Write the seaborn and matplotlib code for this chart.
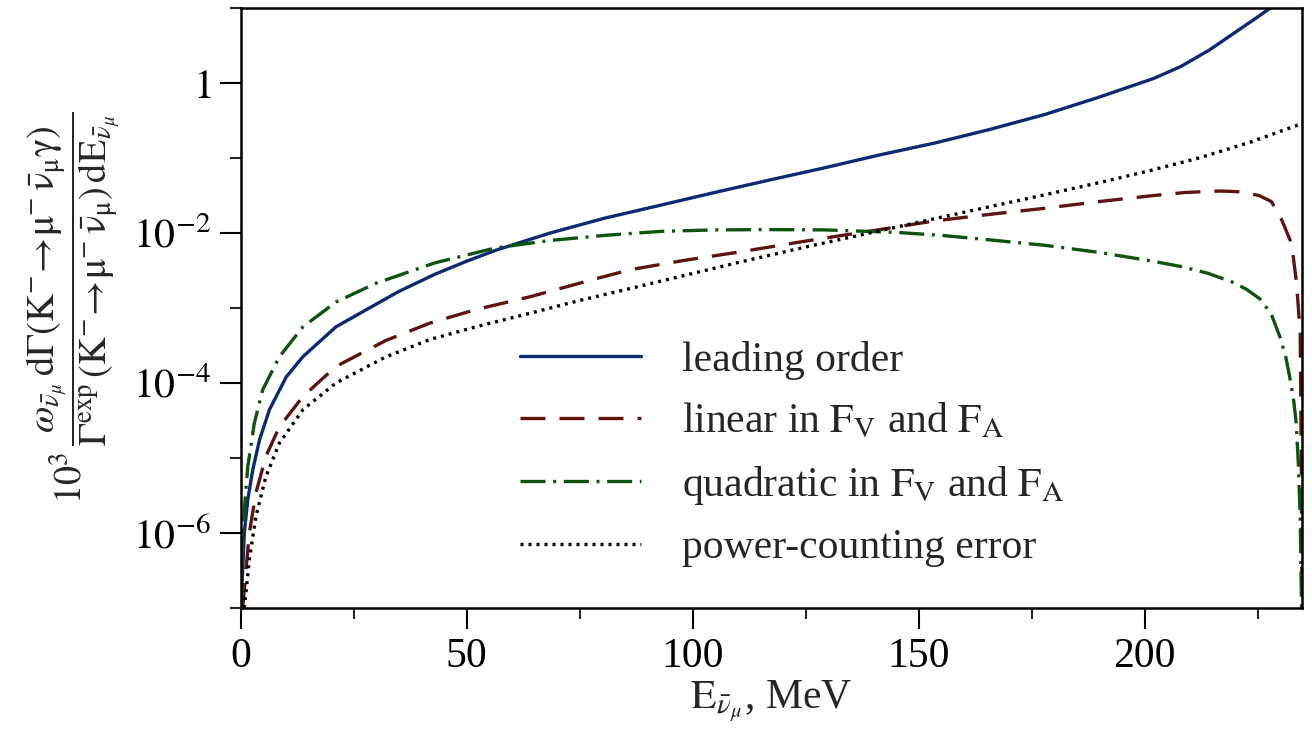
import numpy as np
import pandas as pd
import matplotlib
matplotlib.use("Agg")
import matplotlib.pyplot as plt
import matplotlib.ticker as mticker
import seaborn as sns

# ---------------- data ----------------
E_lo = [0.15, 0.4, 0.84, 1.6, 2.7, 4.2, 6.4, 10.1, 13.8, 21.1, 28.5, 35.0, 43.0, 50.0,
        56.5, 68.5, 80.6, 92.8, 104.9, 117.1, 129.2, 141.4, 153.5, 165.7, 177.9, 190.0,
        202.0, 208.0, 214.3, 221.6, 225.0, 228.3, 230.0]
y_lo = [1e-7, 2.5e-7, 1.0e-6, 2.75e-6, 6.9e-6, 1.74e-5, 4.4e-5, 1.2e-4, 2.24e-4, 5.6e-4,
        1.0e-3, 1.66e-3, 2.82e-3, 4.2e-3, 5.9e-3, 1.0e-2, 1.58e-2, 2.34e-2, 3.47e-2,
        5.1e-2, 7.4e-2, 0.11, 0.158, 0.24, 0.38, 0.65, 1.15, 1.66, 2.75, 5.5, 7.6, 10.5, 13.0]

E_lin = [0.5, 1.06, 1.95, 3.4, 5.6, 8.6, 13.8, 21.1, 32.2, 41.9, 52.0, 64.0, 78.0, 86.2,
         98.0, 110.5, 125.0, 141.0, 153.5, 166.0, 178.0, 190.0, 202.0, 209.0, 216.5,
         221.0, 225.3, 228.0, 230.0, 232.5, 233.6, 234.4, 234.65, 234.8]
y_lin = [1e-7, 2.6e-7, 1.0e-6, 3.4e-6, 1.05e-5, 2.6e-5, 6.6e-5, 1.66e-4, 3.7e-4, 6.3e-4,
         9.5e-4, 1.41e-3, 2.4e-3, 3.24e-3, 4.3e-3, 5.6e-3, 7.8e-3, 1.1e-2, 1.45e-2,
         1.78e-2, 2.14e-2, 2.63e-2, 3.16e-2, 3.47e-2, 3.63e-2, 3.55e-2, 3.16e-2, 2.63e-2,
         1.66e-2, 7.2e-3, 2.14e-3, 4.6e-4, 1.0e-5, 1e-7]

E_quad = [0.2, 0.4, 0.84, 1.6, 3.05, 4.9, 8.6, 13.8, 21.1, 30.0, 43.0, 56.3, 68.0, 80.6,
          92.8, 104.9, 117.0, 129.2, 145.0, 155.0, 165.7, 178.0, 190.0, 201.2, 208.3,
          214.0, 219.2, 222.5, 225.5, 228.0, 230.0, 231.2, 232.2, 233.0, 233.5, 234.0,
          234.4, 234.7]
y_quad = [1e-7, 5.9e-7, 2.0e-6, 7.6e-6, 2.9e-5, 8.1e-5, 2.24e-4, 5.6e-4, 1.2e-3, 2.14e-3,
          4.0e-3, 6.3e-3, 7.9e-3, 9.3e-3, 1.05e-2, 1.1e-2, 1.11e-2, 1.1e-2, 1.02e-2, 9.3e-3,
          8.1e-3, 6.85e-3, 5.5e-3, 4.27e-3, 3.55e-3, 2.9e-3, 2.24e-3, 1.78e-3, 1.32e-3,
          8.3e-4, 4.0e-4, 2.24e-4, 1.1e-4, 5.6e-5, 3.0e-5, 8.3e-6, 1.66e-6, 1e-7]

E_pc = [0.8, 1.2, 1.95, 3.4, 5.6, 8.6, 13.8, 21.1, 32.2, 41.9, 52.0, 64.0, 75.0, 86.2,
        98.0, 110.5, 125.0, 141.4, 153.5, 165.7, 178.0, 190.0, 201.2, 212.0, 223.3, 234.8]
y_pc = [1e-7, 1.6e-7, 4.4e-7, 1.66e-6, 5.6e-6, 1.58e-5, 4.4e-5, 1.0e-4, 2.24e-4, 3.8e-4,
        5.6e-4, 8.5e-4, 1.26e-3, 1.82e-3, 2.7e-3, 4.1e-3, 6.5e-3, 1.07e-2, 1.55e-2,
        2.24e-2, 3.24e-2, 4.7e-2, 6.8e-2, 0.1, 0.162, 0.288]

labels = ["leading order",
          r"linear in $\mathrm{F_V}$ and $\mathrm{F_A}$",
          r"quadratic in $\mathrm{F_V}$ and $\mathrm{F_A}$",
          "power-counting error"]
colors = ["#0b2a70", "#5c1510", "#0e540e", "#000000"]

y_major = [1e-6, 1e-4, 1e-2, 1.0]
y_major_labels = [r"$10^{-6}$", r"$10^{-4}$", r"$10^{-2}$", r"$1$"]
y_minor = [1e-7, 1e-5, 1e-3, 1e-1, 10.0]
x_major = [0, 50, 100, 150, 200]
x_minor = [25, 75, 125, 175, 225]

# ---------------- style ----------------
sns.set_theme(style="ticks")
plt.rcParams["font.family"] = ["Liberation Serif", "DejaVu Serif"]
plt.rcParams["mathtext.fontset"] = "stix"
plt.rcParams["axes.linewidth"] = 1.8

fig = plt.figure(figsize=(13.12, 7.35), dpi=100)
W, H = 1312, 735
ax = fig.add_axes([240.5 / W, 1 - 608 / H, (1302 - 240.5) / W, 600 / H])

series = [(E_lo, y_lo), (E_lin, y_lin), (E_quad, y_quad), (E_pc, y_pc)]
dashes = [None, (7.5, 4.2), (7.5, 2.3, 0.9, 2.3), (0.9, 1.5)]
lw = 2.4
lines = []
for (xs, ys), lab, col, ds in zip(series, labels, colors, dashes):
    df = pd.DataFrame({"E": xs, "y": ys})
    sns.lineplot(data=df, x="E", y="y", ax=ax, color=col, lw=lw, sort=False,
                 estimator=None, label=lab, legend=False)
    ln = ax.lines[-1]
    if ds is not None:
        ln.set_dashes(ds)
    lines.append(ln)

ax.set_yscale("log")
ax.set_xlim(0, 234.8)
ax.set_ylim(1e-7, 10)

ax.yaxis.set_major_locator(mticker.FixedLocator(y_major))
ax.yaxis.set_major_formatter(mticker.FixedFormatter(y_major_labels))
ax.yaxis.set_minor_locator(mticker.FixedLocator(y_minor))
ax.yaxis.set_minor_formatter(mticker.NullFormatter())
ax.xaxis.set_major_locator(mticker.FixedLocator(x_major))
ax.xaxis.set_minor_locator(mticker.FixedLocator(x_minor))

ax.tick_params(which="major", direction="out", length=15, width=1.5,
               labelsize=30, pad=6, colors="black")
ax.tick_params(which="minor", direction="out", length=8, width=1.5)
for s in ax.spines.values():
    s.set_color("black")
    s.set_linewidth(1.8)

ax.set_xlabel(r"$\mathrm{E}_{\bar{\nu}_{\mu}}$, MeV", fontsize=30, labelpad=2)
ax.set_ylabel(r"$10^3\,\dfrac{\omega_{\bar{\nu}_\mu}\,\mathrm{d\Gamma(K^{-}\!\to\!\mu^{-}\,\bar{\nu}_\mu\gamma)}}"
              r"{\mathrm{\Gamma^{exp}\,(K^{-}\!\to\!\mu^{-}\,\bar{\nu}_\mu)\,dE}_{\bar{\nu}_\mu}}$",
              fontsize=27.5)
ax.yaxis.set_label_coords(-0.112, 0.5)

leg = ax.legend(lines, labels, loc="upper left",
                bbox_to_anchor=(520 / W, 1 - 341 / H), bbox_transform=fig.transFigure,
                frameon=False, fontsize=30, handlelength=2.9, handletextpad=1.0,
                labelspacing=0.53, borderpad=0, borderaxespad=0)

fig.savefig("out.png", dpi=100)
